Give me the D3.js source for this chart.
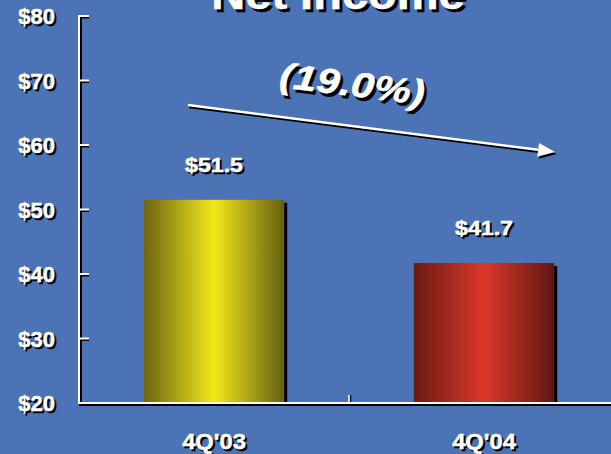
<!DOCTYPE html>
<html>
<head>
<meta charset="utf-8">
<script src="https://cdn.jsdelivr.net/npm/d3@7"></script>
<style>
  html, body { margin: 0; padding: 0; background: #4b73b5; }
  svg { display: block; }
  text { font-family: "Liberation Sans", Arial, sans-serif; font-weight: bold; }
</style>
</head>
<body>
<div id="chart"></div>
<script>
// Quarterly net income, $ millions
const categories = ["4Q'03", "4Q'04"];
const values = [51.5, 41.7];
const valueLabels = ["$51.5", "$41.7"];
const yTicks = [20, 30, 40, 50, 60, 70, 80];
const changeLabel = "(19.0%)";
const title = "Net Income";

const W = 611, H = 454;
const bg = "#4b73b5";

const svg = d3.select("#chart").append("svg")
  .attr("width", W).attr("height", H);

svg.append("rect").attr("width", W).attr("height", H).attr("fill", bg);

const defs = svg.append("defs");
function barGradient(id, edgeL, mid, edgeR) {
  const g = defs.append("linearGradient").attr("id", id)
    .attr("x1", "0%").attr("x2", "100%").attr("y1", "0%").attr("y2", "0%");
  g.append("stop").attr("offset", "0%").attr("stop-color", edgeL);
  g.append("stop").attr("offset", "50%").attr("stop-color", mid);
  g.append("stop").attr("offset", "100%").attr("stop-color", edgeR);
}
barGradient("g0", "#6b6410", "#f2e819", "#666012");
barGradient("g1", "#6a1a15", "#da3829", "#5f1712");
const fills = ["url(#g0)", "url(#g1)"];

const x0 = 79, yTop = 16, yBase = 403;
const x = d3.scaleBand().domain(categories).range([x0, 619]).padding(0);
const y = d3.scaleLinear().domain([20, 80]).range([yBase, yTop]);
const barW = x.bandwidth() * 0.52;

// text with a dark drop shadow, optionally stretched horizontally
function shadowText(g, str, tx, ty, opts) {
  const o = Object.assign({ size: 22, anchor: "middle", sx: 1, rot: 0, italic: false, dy: 0, off: 2 }, opts);
  const grp = g.append("g")
    .attr("transform", `translate(${tx},${ty}) rotate(${o.rot}) scale(${o.sx},1)`);
  [["#000", o.off / o.sx, o.off], ["#fff", 0, 0]].forEach(([c, dx, dy]) => {
    grp.append("text")
      .attr("x", dx).attr("y", dy + o.dy)
      .attr("text-anchor", o.anchor)
      .attr("font-size", o.size)
      .attr("font-style", o.italic ? "italic" : "normal")
      .attr("fill", c)
      .attr("stroke", c).attr("stroke-width", 0.5)
      .text(str);
  });
  return grp;
}

// bars with a hard black shadow
const bars = svg.append("g");
categories.forEach((c, i) => {
  const cx = x(c) + x.bandwidth() / 2;
  const top = y(values[i]);
  bars.append("rect")
    .attr("x", cx - barW / 2 + 3).attr("y", top + 3)
    .attr("width", barW).attr("height", yBase - top - 3)
    .attr("fill", "#000");
  bars.append("rect")
    .attr("x", cx - barW / 2).attr("y", top)
    .attr("width", barW).attr("height", yBase - top)
    .attr("fill", fills[i]);
  shadowText(svg, valueLabels[i], cx, top - 28, { size: 20, sx: 1.16 });
  shadowText(svg, c, cx, 449, { size: 22, sx: 1.08 });
});

// axes: white strokes with a dark offset shadow
const axes = svg.append("g");
function line(x1, y1, x2, y2, color, w) {
  axes.append("line").attr("x1", x1).attr("y1", y1).attr("x2", x2).attr("y2", y2)
    .attr("stroke", color).attr("stroke-width", w);
}
// shadows
line(x0 + 2, yTop, x0 + 2, yBase + 2, "#000", 2);
line(x0, yBase + 2, W, yBase + 2, "#000", 2);
yTicks.forEach(t => line(x0, y(t) + 1.5, x0 + 10, y(t) + 1.5, "#000", 2));
const midTick = x(categories[1]);
line(midTick + 1.5, yBase - 8, midTick + 1.5, yBase, "#000", 1.5);
// white strokes
line(x0, yTop - 1, x0, yBase + 1, "#fff", 2);
line(x0 - 1, yBase, W, yBase, "#fff", 2);
yTicks.forEach(t => line(x0, y(t), x0 + 10, y(t), "#fff", 2));
line(midTick, yBase - 8, midTick, yBase, "#fff", 1.5);

// y tick labels
yTicks.forEach(t => {
  shadowText(svg, "$" + t, 55, y(t) + 8, { size: 22, anchor: "end" });
});

// title (partly above the top edge)
shadowText(svg, title, 338, 9, { size: 42, sx: 1.12, off: 3 });

// change arrow from first to second quarter
const a0 = [188, 105], a1 = [555, 152];
const ang = Math.atan2(a1[1] - a0[1], a1[0] - a0[0]);
const headLen = 17, headW = 7;
const base = [a1[0] - headLen * Math.cos(ang), a1[1] - headLen * Math.sin(ang)];
const head = (ox, oy) => [
  [a1[0] + ox, a1[1] + oy],
  [base[0] - headW * Math.sin(ang) + ox, base[1] + headW * Math.cos(ang) + oy],
  [base[0] + headW * Math.sin(ang) + ox, base[1] - headW * Math.cos(ang) + oy]
];
const arrow = svg.append("g");
arrow.append("line").attr("x1", a0[0] + 1).attr("y1", a0[1] + 2)
  .attr("x2", base[0] + 1).attr("y2", base[1] + 2)
  .attr("stroke", "#000").attr("stroke-width", 2.5);
arrow.append("polygon").attr("points", head(1.5, 2).join(" ")).attr("fill", "#000");
arrow.append("line").attr("x1", a0[0]).attr("y1", a0[1])
  .attr("x2", base[0]).attr("y2", base[1])
  .attr("stroke", "#fff").attr("stroke-width", 2.5);
arrow.append("polygon").attr("points", head(0, 0).join(" ")).attr("fill", "#fff");

// percentage change label
shadowText(svg, changeLabel, 352, 87, { size: 35, sx: 1.19, rot: 7, italic: true, dy: 9, off: 3 });
</script>
</body>
</html>
